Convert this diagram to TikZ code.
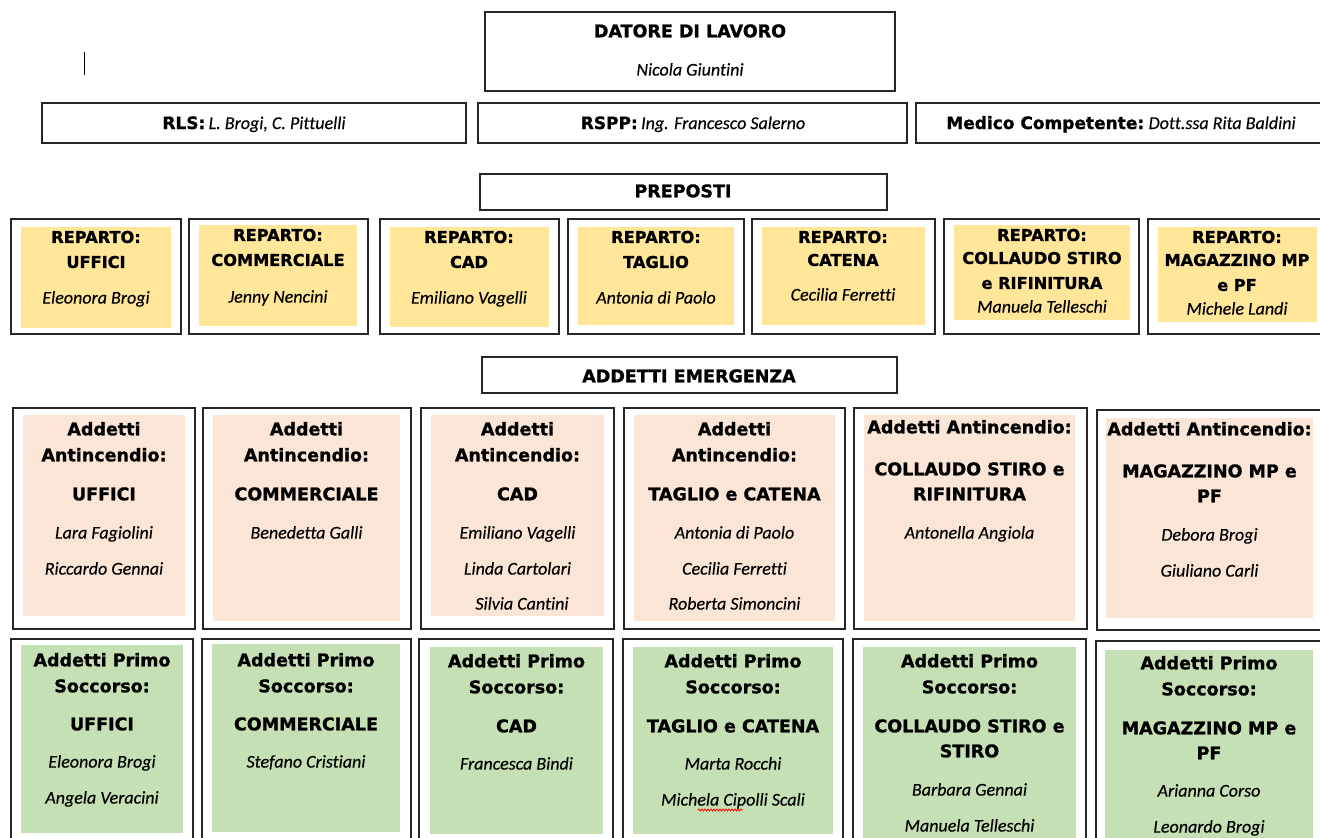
\documentclass[tikz,border=0pt]{standalone}
\usepackage{fontspec}
\usetikzlibrary{decorations.pathmorphing}
\newfontfamily\hd{DejaVu Sans}[BoldFeatures={FakeBold=1.2}]
\newfontfamily\nm{Carlito}[Ligatures={NoCommon}, ItalicFeatures={FakeBold=0.3}]
\definecolor{yel}{HTML}{FFE699}
\definecolor{pnk}{HTML}{FBE5D6}
\definecolor{grn}{HTML}{C5E0B4}
\newcommand\bx[6]{\node[#6, minimum width={(#4-#2)*1pt}, minimum height={(#5-#3)*1pt}, inner sep=0pt, outer sep=0pt] (#1) at ({(#2+#4)/2},{(#3+#5)/2}) {};}
\newcommand\tl[5]{\node[#4] (#1) at (#2,#3) {#5};}
\tikzset{
  frame/.style={draw=black!85, line width=1.5pt},
  fy/.style={fill=yel},
  fp/.style={fill=pnk},
  fg/.style={fill=grn},
  H/.style={font=\hd\bfseries\fontsize{17.5}{21}\selectfont, anchor=base, yshift=-6.3pt, inner sep=0pt},
  HP/.style={font=\hd\bfseries\fontsize{16.2}{20}\selectfont, anchor=base, yshift=-5.9pt, inner sep=0pt},
  N/.style={font=\nm\itshape\fontsize{18}{21}\selectfont, anchor=base, yshift=-5.6pt, inner sep=0pt},
  M/.style={anchor=base, yshift=-6pt, inner sep=0pt},
}
\newcommand\bhd{\hd\bfseries\fontsize{17}{20}\selectfont}
\newcommand\nmi{\nm\itshape\fontsize{18}{20}\selectfont}
\begin{document}
\begin{tikzpicture}[x=1pt,y=-1pt]
\useasboundingbox (0,0) rectangle (1320,838);
\clip (0,0) rectangle (1320,838);
% cursor
\draw[black, line width=1pt] (84,52) -- (84,75);
% top
\bx{dl}{485}{12}{895}{91}{frame}
\tl{dlt}{690}{31}{H}{DATORE DI LAVORO}
\tl{dln}{690}{70}{N}{Nicola Giuntini}
\bx{rls}{42}{103}{466}{143}{frame}
\tl{rlst}{254}{123}{M}{{\bhd RLS:} {\nmi L. Brogi, C. Pittuelli}}
\bx{rspp}{478}{103}{907}{143}{frame}
\tl{rsppt}{693}{123}{M}{{\bhd RSPP:} {\nmi Ing. Francesco Salerno}}
\bx{med}{916}{103}{1330}{143}{frame}
\tl{medt}{1121}{123}{M}{{\bhd Medico Competente:} {\nmi Dott.ssa Rita Baldini}}
\bx{prep}{480}{174}{887}{210}{frame}
\tl{prept}{683}{191}{H}{PREPOSTI}
% preposti row
\bx{po1}{11}{219}{181}{334}{frame}  \bx{pi1}{21}{227}{171}{328}{fy}
\bx{po2}{189}{219}{368}{334}{frame} \bx{pi2}{199}{225}{357}{326}{fy}
\bx{po3}{380}{219}{559}{334}{frame} \bx{pi3}{390}{227}{549}{327}{fy}
\bx{po4}{568}{219}{744}{334}{frame} \bx{pi4}{578}{227}{734}{325}{fy}
\bx{po5}{752}{219}{935}{334}{frame} \bx{pi5}{762}{227}{925}{325}{fy}
\bx{po6}{944}{219}{1139}{334}{frame} \bx{pi6}{954}{225}{1130}{320}{fy}
\bx{po7}{1148}{219}{1330}{334}{frame} \bx{pi7}{1158}{227}{1317}{322}{fy}
\tl{p1a}{96}{237}{HP}{REPARTO:}   \tl{p1b}{96}{262}{HP}{UFFICI}        \tl{p1c}{96}{298}{N}{Eleonora Brogi}
\tl{p2a}{278}{235}{HP}{REPARTO:}  \tl{p2b}{278}{260}{HP}{COMMERCIALE}   \tl{p2c}{278}{297}{N}{Jenny Nencini}
\tl{p3a}{469}{237}{HP}{REPARTO:}  \tl{p3b}{469}{262}{HP}{CAD}           \tl{p3c}{469}{298}{N}{Emiliano Vagelli}
\tl{p4a}{656}{237}{HP}{REPARTO:}  \tl{p4b}{656}{262}{HP}{TAGLIO}        \tl{p4c}{656}{298}{N}{Antonia di Paolo}
\tl{p5a}{843}{237}{HP}{REPARTO:}  \tl{p5b}{843}{260}{HP}{CATENA}        \tl{p5c}{843}{295}{N}{Cecilia Ferretti}
\tl{p6a}{1042}{235}{HP}{REPARTO:} \tl{p6b}{1042}{258}{HP}{COLLAUDO STIRO} \tl{p6c}{1042}{283}{HP}{e RIFINITURA} \tl{p6d}{1042}{307}{N}{Manuela Telleschi}
\tl{p7a}{1237}{237}{HP}{REPARTO:} \tl{p7b}{1237}{260}{HP}{MAGAZZINO MP} \tl{p7c}{1237}{285}{HP}{e PF} \tl{p7d}{1237}{309}{N}{Michele Landi}
% emergenza
\bx{em}{482}{357}{897}{393}{frame}
\tl{emt}{689}{376}{H}{ADDETTI EMERGENZA}
% antincendio row
\bx{ao1}{13}{408}{195}{629}{frame}   \bx{ai1}{23}{415}{185}{616}{fp}
\bx{ao2}{203}{408}{411}{629}{frame}  \bx{ai2}{213}{415}{400}{621}{fp}
\bx{ao3}{421}{408}{614}{629}{frame}  \bx{ai3}{431}{415}{604}{616}{fp}
\bx{ao4}{624}{408}{845}{629}{frame}  \bx{ai4}{634}{415}{835}{621}{fp}
\bx{ao5}{854}{408}{1087}{629}{frame} \bx{ai5}{864}{415}{1075}{621}{fp}
\bx{ao6}{1097}{410}{1330}{630}{frame} \bx{ai6}{1106}{418}{1313}{618}{fp}
\tl{a1a}{104}{429}{H}{Addetti} \tl{a1b}{104}{455}{H}{Antincendio:} \tl{a1c}{104}{494}{H}{UFFICI}
\tl{a1d}{104}{533}{N}{Lara Fagiolini} \tl{a1e}{104}{569}{N}{Riccardo Gennai}
\tl{a2a}{306.5}{429}{H}{Addetti} \tl{a2b}{306.5}{455}{H}{Antincendio:} \tl{a2c}{306.5}{494}{H}{COMMERCIALE}
\tl{a2d}{306.5}{533}{N}{Benedetta Galli}
\tl{a3a}{517.5}{429}{H}{Addetti} \tl{a3b}{517.5}{455}{H}{Antincendio:} \tl{a3c}{517.5}{494}{H}{CAD}
\tl{a3d}{517.5}{533}{N}{Emiliano Vagelli} \tl{a3e}{517.5}{569}{N}{Linda Cartolari} \tl{a3f}{522}{604}{N}{Silvia Cantini}
\tl{a4a}{734.5}{429}{H}{Addetti} \tl{a4b}{734.5}{455}{H}{Antincendio:} \tl{a4c}{734.5}{494}{H}{TAGLIO e CATENA}
\tl{a4d}{734.5}{533}{N}{Antonia di Paolo} \tl{a4e}{734.5}{569}{N}{Cecilia Ferretti} \tl{a4f}{734.5}{604}{N}{Roberta Simoncini}
\tl{a5a}{969.5}{427}{H}{Addetti Antincendio:} \tl{a5b}{969.5}{469}{H}{COLLAUDO STIRO e} \tl{a5c}{969.5}{494}{H}{RIFINITURA}
\tl{a5d}{969.5}{533}{N}{Antonella Angiola}
\tl{a6a}{1209.5}{429}{H}{Addetti Antincendio:} \tl{a6b}{1209.5}{471}{H}{MAGAZZINO MP e} \tl{a6c}{1209.5}{496}{H}{PF}
\tl{a6d}{1209.5}{535}{N}{Debora Brogi} \tl{a6e}{1209.5}{571}{N}{Giuliano Carli}
% primo soccorso row
\bx{so1}{11}{639}{193}{860}{frame}   \bx{si1}{21}{645}{183}{833}{fg}
\bx{so2}{202}{639}{411}{860}{frame}  \bx{si2}{212}{644}{400}{832}{fg}
\bx{so3}{419}{639}{613}{860}{frame}  \bx{si3}{430}{647}{603}{834}{fg}
\bx{so4}{623}{639}{843}{860}{frame}  \bx{si4}{633}{647}{833}{834}{fg}
\bx{so5}{853}{639}{1086}{860}{frame} \bx{si5}{863}{647}{1076}{850}{fg}
\bx{so6}{1096}{641}{1330}{860}{frame} \bx{si6}{1105}{650}{1313}{850}{fg}
\tl{s1a}{102}{660}{H}{Addetti Primo} \tl{s1b}{102}{686}{H}{Soccorso:} \tl{s1c}{102}{724}{H}{UFFICI}
\tl{s1d}{102}{762}{N}{Eleonora Brogi} \tl{s1e}{102}{798}{N}{Angela Veracini}
\tl{s2a}{306}{660}{H}{Addetti Primo} \tl{s2b}{306}{686}{H}{Soccorso:} \tl{s2c}{306}{724}{H}{COMMERCIALE}
\tl{s2d}{306}{762}{N}{Stefano Cristiani}
\tl{s3a}{516.5}{661}{H}{Addetti Primo} \tl{s3b}{516.5}{687}{H}{Soccorso:} \tl{s3c}{516.5}{726}{H}{CAD}
\tl{s3d}{516.5}{764}{N}{Francesca Bindi}
\tl{s4a}{733}{661}{H}{Addetti Primo} \tl{s4b}{733}{687}{H}{Soccorso:} \tl{s4c}{733}{726}{H}{TAGLIO e CATENA}
\tl{s4d}{733}{764}{N}{Marta Rocchi} \tl{s4e}{733}{800}{N}{Michela Cipolli Scali}
\tl{s5a}{969.5}{661}{H}{Addetti Primo} \tl{s5b}{969.5}{687}{H}{Soccorso:} \tl{s5c}{969.5}{726}{H}{COLLAUDO STIRO e} \tl{s5d}{969.5}{751}{H}{STIRO}
\tl{s5e}{969.5}{790}{N}{Barbara Gennai} \tl{s5f}{969.5}{826}{N}{Manuela Telleschi}
\tl{s6a}{1209}{663}{H}{Addetti Primo} \tl{s6b}{1209}{689}{H}{Soccorso:} \tl{s6c}{1209}{728}{H}{MAGAZZINO MP e} \tl{s6d}{1209}{753}{H}{PF}
\tl{s6e}{1209}{791}{N}{Arianna Corso} \tl{s6f}{1209}{827}{N}{Leonardo Brogi}
% spell-check squiggle
\draw[red, line width=0.8pt, decorate, decoration={snake, amplitude=1pt, segment length=3pt}] (698,810) -- (743,810);
\end{tikzpicture}
\end{document}
